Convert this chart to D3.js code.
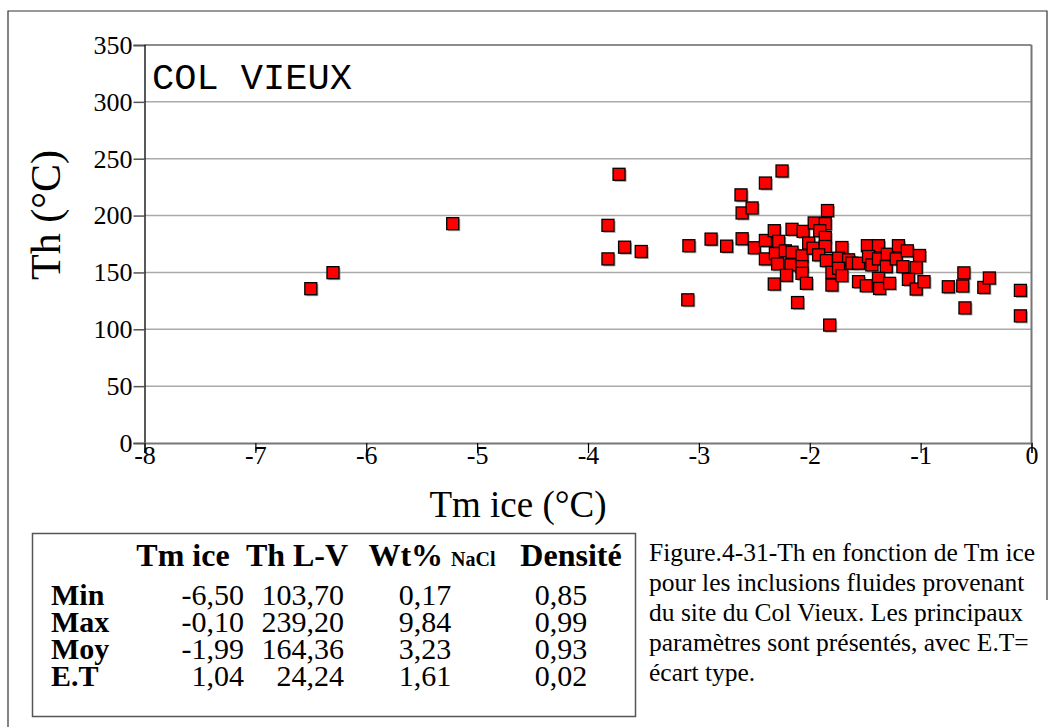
<!DOCTYPE html>
<html>
<head>
<meta charset="utf-8">
<script src="https://cdn.jsdelivr.net/npm/d3@7"></script>
<style>
  body { margin: 0; background: #fff; }
  svg { display: block; }
</style>
</head>
<body>
<div class="col-vieux"></div>
<script>
// Tm ice (°C) and Th (°C) for each fluid inclusion
const tmIce = [-6.50, -6.30, -5.22, -3.72, -3.82, -3.67, -3.52, -3.82, -3.09, -3.10,
  -2.89, -2.75, -2.62, -2.61, -2.52, -2.61, -2.50, -2.40, -2.25, -2.40,
  -2.32, -2.28, -2.40, -2.31, -2.22, -2.29, -2.16, -2.17, -2.21, -2.32,
  -2.11, -2.16, -2.06, -2.07, -2.07, -2.07, -2.03, -1.96, -1.84, -1.86,
  -1.91, -1.86, -2.01, -1.97, -1.86, -1.92, -1.85, -1.80, -1.80, -1.82,
  -1.71, -1.74, -1.65, -1.74, -1.71, -1.62, -1.56, -1.48, -1.38, -1.47,
  -1.44, -1.38, -1.30, -1.31, -1.22, -1.20, -1.12, -1.16, -1.01, -1.04,
  -1.56, -1.49, -1.38, -1.37, -1.28, -1.11, -1.04, -0.97, -0.75, -0.62,
  -0.61, -0.60, -0.43, -0.38, -0.10, -0.10];
const thLV = [135.7, 149.8, 192.9, 236.3, 191.4, 172.2, 168.4, 161.9, 173.5, 125.9,
  179.3, 173.1, 218.2, 202.3, 206.7, 179.6, 171.7, 228.6, 239.2, 178.1,
  186.7, 177.3, 161.9, 166.6, 169.0, 157.5, 167.8, 156.6, 147.4, 139.8,
  123.5, 187.9, 186.1, 164.6, 155.1, 149.2, 140.4, 193.5, 204.4, 192.9,
  186.7, 180.8, 175.8, 171.3, 172.8, 165.5, 160.4, 138.9, 150.1, 103.7,
  171.9, 162.5, 161.1, 153.6, 147.2, 158.1, 158.1, 173.5, 173.5, 164.0,
  156.6, 161.9, 166.0, 155.1, 161.9, 173.5, 169.0, 155.1, 164.9, 154.2,
  141.9, 138.3, 144.8, 135.9, 140.4, 143.9, 135.4, 141.9, 137.4, 138.1,
  149.6, 118.8, 136.8, 145.1, 134.2, 111.8];

const xTicks = [-8, -7, -6, -5, -4, -3, -2, -1, 0];
const yTicks = [0, 50, 100, 150, 200, 250, 300, 350];

// summary table
const statHeaders = ["Tm ice", "Th L-V", "Wt%", "Densité"];
const statRows = ["Min", "Max", "Moy", "E.T"];
const statTmIce = ["-6,50", "-0,10", "-1,99", "1,04"];
const statTh = ["103,70", "239,20", "164,36", "24,24"];
const statWt = ["0,17", "9,84", "3,23", "1,61"];
const statDens = ["0,85", "0,99", "0,93", "0,02"];

const captionLines = [
  "Figure.4-31-Th en fonction de Tm ice",
  "pour les inclusions fluides provenant",
  "du site du Col Vieux. Les principaux",
  "paramètres sont présentés, avec E.T=",
  "écart type."
];

const SERIF = "'Liberation Serif', 'Times New Roman', serif";
const W = 1055, H = 727;
const svg = d3.select(".col-vieux")
  .append("svg")
  .attr("width", W)
  .attr("height", H)
  .attr("viewBox", `0 0 ${W} ${H}`);

// outer frame (top, left, right) of the figure
svg.append("path")
  .attr("d", "M8,727 L8,11 L1047,11 L1047,600")
  .attr("fill", "none")
  .attr("stroke", "#333")
  .attr("stroke-width", 1.2);

const plot = { left: 144.5, right: 1031.5, top: 45, bottom: 443 };

const x = d3.scaleLinear().domain([-8, 0]).range([plot.left, plot.right]);
const y = d3.scaleLinear().domain([0, 350]).range([plot.bottom, plot.top]);

// gridlines
svg.append("g")
  .selectAll("line")
  .data(yTicks.filter(d => d > 0))
  .enter()
  .append("line")
  .attr("x1", plot.left).attr("x2", plot.right)
  .attr("y1", d => y(d)).attr("y2", d => y(d))
  .attr("stroke", d => d === 350 ? "#666" : "#aaa")
  .attr("stroke-width", 1.5);

// right border
svg.append("line")
  .attr("x1", plot.right).attr("x2", plot.right)
  .attr("y1", plot.top).attr("y2", plot.bottom)
  .attr("stroke", "#777").attr("stroke-width", 2);

// Y axis
const yAxis = svg.append("g")
  .attr("transform", `translate(${plot.left},0)`)
  .call(d3.axisLeft(y).tickValues(yTicks).tickSize(11).tickPadding(1)
    .tickFormat(d => String(d)))
  .attr("font-family", SERIF)
  .attr("font-size", 26);
yAxis.select(".domain").attr("stroke", "#000").attr("stroke-width", 1.3);
yAxis.selectAll(".tick line").attr("stroke", "#555").attr("stroke-width", 1.5);
yAxis.selectAll("text").attr("fill", "#000");

// X axis
const xAxis = svg.append("g")
  .attr("transform", `translate(0,${plot.bottom})`)
  .call(d3.axisBottom(x).tickValues(xTicks).tickSize(10)
    .tickFormat(d => String(d)))
  .attr("font-family", SERIF)
  .attr("font-size", 26);
xAxis.select(".domain").attr("stroke", "#777").attr("stroke-width", 2);
xAxis.selectAll(".tick line").attr("stroke", "#000").attr("stroke-width", 1.2);
xAxis.selectAll("text").attr("fill", "#000").attr("y", 3);

// axis titles
svg.append("text")
  .attr("transform", "translate(60,215) rotate(-90)")
  .attr("text-anchor", "middle")
  .attr("font-family", SERIF)
  .attr("font-size", 42)
  .text("Th (°C)");

svg.append("text")
  .attr("x", 518)
  .attr("y", 517)
  .attr("text-anchor", "middle")
  .attr("font-family", SERIF)
  .attr("font-size", 37)
  .text("Tm ice (°C)");

// site label
svg.append("text")
  .attr("x", 152)
  .attr("y", 89)
  .attr("font-family", "'Liberation Mono', 'Courier New', monospace")
  .attr("font-size", 37)
  .text("COL VIEUX");

// points
const pts = tmIce.map((t, i) => ({ t: t, th: thLV[i] }));
const size = 12;

svg.append("g")
  .selectAll("rect")
  .data(pts)
  .enter()
  .append("rect")
  .attr("x", d => x(d.t) - size / 2 + 1.5)
  .attr("y", d => y(d.th) - size / 2 + 1.5)
  .attr("width", size)
  .attr("height", size)
  .attr("fill", "#8a8a8a")
  .attr("opacity", 0.8);

svg.append("g")
  .selectAll("rect")
  .data(pts)
  .enter()
  .append("rect")
  .attr("x", d => x(d.t) - size / 2)
  .attr("y", d => y(d.th) - size / 2)
  .attr("width", size)
  .attr("height", size)
  .attr("fill", "#ff0000")
  .attr("stroke", "#000")
  .attr("stroke-width", 1.3);

// summary table
svg.append("rect")
  .attr("x", 32.5).attr("y", 533.5)
  .attr("width", 603).attr("height", 183)
  .attr("fill", "none")
  .attr("stroke", "#555")
  .attr("stroke-width", 1.5);

const head = svg.append("g")
  .attr("font-family", SERIF)
  .attr("font-weight", "bold")
  .attr("font-size", 32);
head.append("text").attr("x", 183).attr("y", 566).attr("text-anchor", "middle").text(statHeaders[0]);
head.append("text").attr("x", 297).attr("y", 566).attr("text-anchor", "middle").text(statHeaders[1]);
const wt = head.append("text").attr("x", 432).attr("y", 566).attr("text-anchor", "middle");
wt.append("tspan").text(statHeaders[2] + " ");
wt.append("tspan").attr("font-size", 20).text("NaCl");
head.append("text").attr("x", 571).attr("y", 566).attr("text-anchor", "middle").text(statHeaders[3]);

const rows = svg.append("g")
  .attr("font-family", SERIF)
  .attr("font-size", 30);
const rowY = i => 605 + i * 27;

rows.selectAll(".lab")
  .data(statRows)
  .enter()
  .append("text")
  .attr("x", 51)
  .attr("y", (d, i) => rowY(i))
  .attr("font-weight", "bold")
  .text(d => d);

rows.selectAll(".tm")
  .data(statTmIce)
  .enter()
  .append("text")
  .attr("x", 244)
  .attr("y", (d, i) => rowY(i))
  .attr("text-anchor", "end")
  .text(d => d);

rows.selectAll(".th")
  .data(statTh)
  .enter()
  .append("text")
  .attr("x", 344)
  .attr("y", (d, i) => rowY(i))
  .attr("text-anchor", "end")
  .text(d => d);

rows.selectAll(".wt")
  .data(statWt)
  .enter()
  .append("text")
  .attr("x", 425)
  .attr("y", (d, i) => rowY(i))
  .attr("text-anchor", "middle")
  .text(d => d);

rows.selectAll(".de")
  .data(statDens)
  .enter()
  .append("text")
  .attr("x", 561)
  .attr("y", (d, i) => rowY(i))
  .attr("text-anchor", "middle")
  .text(d => d);

// caption
svg.append("g")
  .attr("font-family", SERIF)
  .attr("font-size", 25.5)
  .selectAll("text")
  .data(captionLines)
  .enter()
  .append("text")
  .attr("x", 649)
  .attr("y", (d, i) => 561 + i * 30)
  .text(d => d);
</script>
</body>
</html>
